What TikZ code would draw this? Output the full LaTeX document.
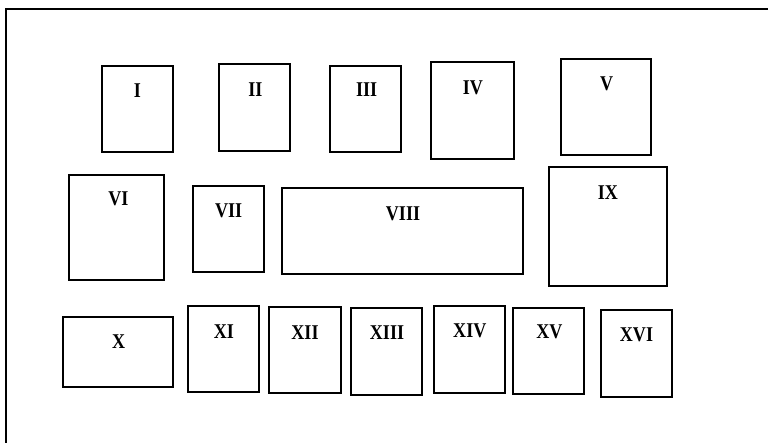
\documentclass[tikz,border=0pt]{standalone}
\usepackage{fontspec}
\setmainfont{Liberation Serif}[FakeStretch=0.86]
\usepackage{tikz}
\usetikzlibrary{positioning}
\tikzset{room/.style = {draw, rectangle, line width = 1.8pt, inner sep = 0}}
\tikzset{roomlbl/.style = {font = \fontsize{21}{25}\selectfont\bfseries, inner sep = 0}}

\begin{document}
\begin{tikzpicture}[x = 1pt, y = -1pt]
    \useasboundingbox (0, 0) rectangle (768, 443);
    \clip (0, 0) rectangle (768, 443);
    \draw [line width = 1.8pt] (6, 9) rectangle (790, 470);

    % top row
    \node [room, minimum width = 71.3, minimum height = 86.6] (r1) at (137.3, 109) {};
    \node [room, minimum width = 71, minimum height = 86.4] (r2) at (254.8, 107.5) {};
    \node [room, minimum width = 71, minimum height = 86.6] (r3) at (365.8, 109) {};
    \node [room, minimum width = 83, minimum height = 96.7] (r4) at (472.2, 110.3) {};
    \node [room, minimum width = 90.6, minimum height = 96.6] (r5) at (606, 107) {};

    % middle row
    \node [room, minimum width = 95.3, minimum height = 105] (r6) at (116.7, 227.5) {};
    \node [room, minimum width = 71.6, minimum height = 86.3] (r7) at (228.5, 228.8) {};
    \node [room, minimum width = 241, minimum height = 86] (r8) at (402.2, 231.3) {};
    \node [room, minimum width = 118, minimum height = 119] (r9) at (607.7, 226.2) {};

    % bottom row
    \node [room, minimum width = 110, minimum height = 70] (r10) at (118, 351.7) {};
    \node [room, minimum width = 71, minimum height = 86.6] (r11) at (223.5, 349) {};
    \node [room, minimum width = 71.4, minimum height = 86.3] (r12) at (305, 350.2) {};
    \node [room, minimum width = 71.3, minimum height = 86.7] (r13) at (386.7, 351.7) {};
    \node [room, minimum width = 71, minimum height = 86.7] (r14) at (469.2, 349.3) {};
    \node [room, minimum width = 71, minimum height = 86.6] (r15) at (548.8, 351) {};
    \node [room, minimum width = 71.3, minimum height = 86.7] (r16) at (636.3, 353.3) {};

    % labels
    \node [roomlbl] (l1) at (137.3, 90.5) {I};
    \node [roomlbl] (l2) at (255.3, 89.8) {II};
    \node [roomlbl] (l3) at (366.7, 90) {III};
    \node [roomlbl] (l4) at (473, 87.4) {IV};
    \node [roomlbl] (l5) at (606.7, 83.3) {V};
    \node [roomlbl] (l6) at (118.3, 199.2) {VI};
    \node [roomlbl] (l7) at (228.7, 210.5) {VII};
    \node [roomlbl] (l8) at (403, 213.8) {VIII};
    \node [roomlbl] (l9) at (607.8, 192.2) {IX};
    \node [roomlbl] (l10) at (118.7, 342) {X};
    \node [roomlbl] (l11) at (223.8, 331.3) {XI};
    \node [roomlbl] (l12) at (305, 332.2) {XII};
    \node [roomlbl] (l13) at (387, 332.5) {XIII};
    \node [roomlbl] (l14) at (469.8, 330.8) {XIV};
    \node [roomlbl] (l15) at (549.3, 331.8) {XV};
    \node [roomlbl] (l16) at (636.5, 335.2) {XVI};
  \end{tikzpicture}
\end{document}
